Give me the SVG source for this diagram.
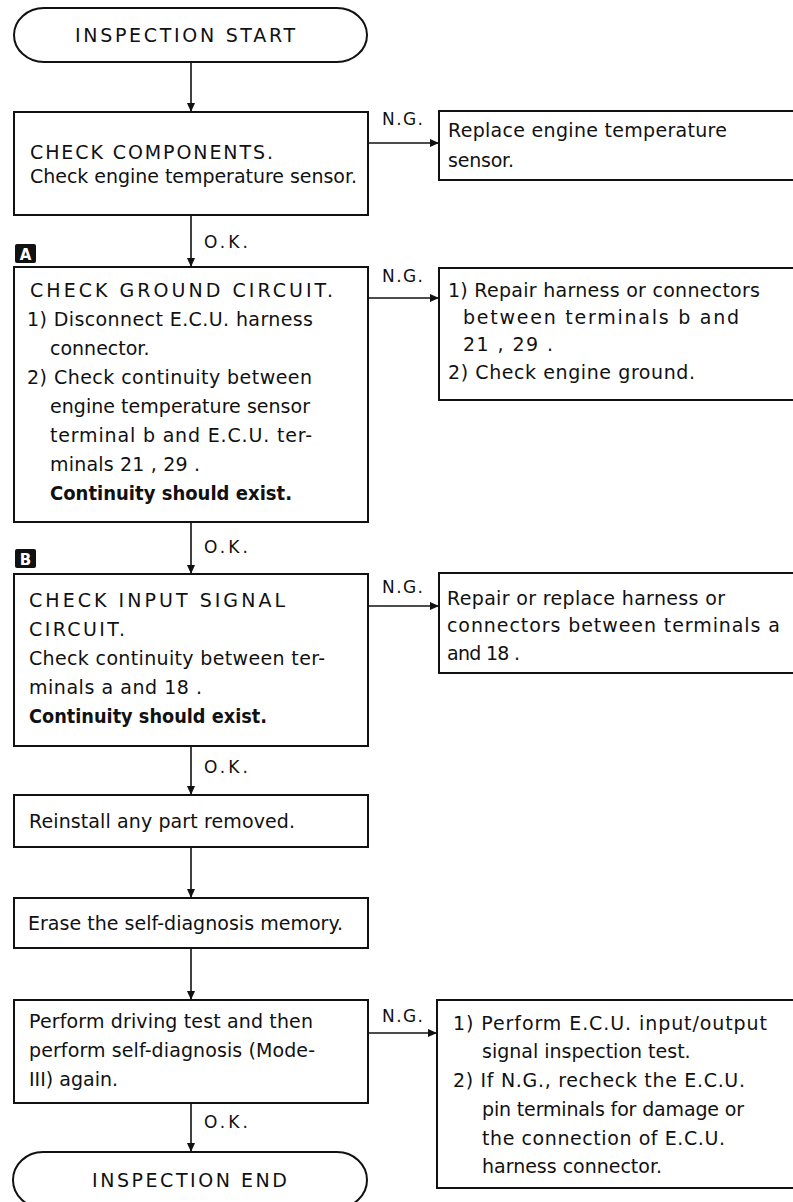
<svg xmlns="http://www.w3.org/2000/svg" width="793" height="1202" viewBox="0 0 793 1202">
<defs>
<style>
.box{fill:#fff;stroke:#111;stroke-width:2}
.t{font-family:"DejaVu Sans","Liberation Sans",Arial,sans-serif;font-size:19px;fill:#111}
.b{font-weight:bold}
.lbl{font-family:"DejaVu Sans","Liberation Sans",Arial,sans-serif;font-size:17px;fill:#111}
.ln{fill:none;stroke:#111;stroke-width:1.6}
.badge{fill:#111}
.bt{font-family:"DejaVu Sans","Liberation Sans",Arial,sans-serif;font-size:15px;font-weight:bold;fill:#fff}
</style>
<marker id="ah" markerWidth="10" markerHeight="10" refX="9" refY="5" orient="auto" markerUnits="userSpaceOnUse">
<path d="M0,1 L9,5 L0,9 Z" fill="#111"/>
</marker>
</defs>
<rect width="793" height="1202" fill="#fff"/>

<g id="connectors">
<line class="ln" x1="191" y1="62" x2="191" y2="112" marker-end="url(#ah)"/>
<line class="ln" x1="191" y1="215" x2="191" y2="267" marker-end="url(#ah)"/>
<line class="ln" x1="191" y1="522" x2="191" y2="574" marker-end="url(#ah)"/>
<line class="ln" x1="191" y1="746" x2="191" y2="795" marker-end="url(#ah)"/>
<line class="ln" x1="191" y1="847" x2="191" y2="898" marker-end="url(#ah)"/>
<line class="ln" x1="191" y1="948" x2="191" y2="1000" marker-end="url(#ah)"/>
<line class="ln" x1="191" y1="1103" x2="191" y2="1152" marker-end="url(#ah)"/>
<line class="ln" x1="368" y1="143" x2="439" y2="143" marker-end="url(#ah)"/>
<line class="ln" x1="368" y1="298" x2="439" y2="298" marker-end="url(#ah)"/>
<line class="ln" x1="368" y1="606" x2="439" y2="606" marker-end="url(#ah)"/>
<line class="ln" x1="368" y1="1033" x2="437" y2="1033" marker-end="url(#ah)"/>
<text class="lbl" x="204" y="248" textLength="44" lengthAdjust="spacing">O.K.</text>
<text class="lbl" x="204" y="553" textLength="44" lengthAdjust="spacing">O.K.</text>
<text class="lbl" x="204" y="773" textLength="44" lengthAdjust="spacing">O.K.</text>
<text class="lbl" x="204" y="1128" textLength="44" lengthAdjust="spacing">O.K.</text>
<text class="lbl" x="382" y="125" textLength="41" lengthAdjust="spacing">N.G.</text>
<text class="lbl" x="382" y="282" textLength="41" lengthAdjust="spacing">N.G.</text>
<text class="lbl" x="382" y="593" textLength="41" lengthAdjust="spacing">N.G.</text>
<text class="lbl" x="382" y="1022" textLength="41" lengthAdjust="spacing">N.G.</text>
</g>

<g id="start">
<rect class="box" x="14" y="8" width="353" height="54" rx="30" ry="27"/>
<text class="t" x="75" y="42" font-size="20" textLength="220" lengthAdjust="spacing">INSPECTION START</text>
</g>

<g id="check-components">
<rect class="box" x="14" y="112" width="354" height="103"/>
<text class="t" x="30" y="159" textLength="243" lengthAdjust="spacing">CHECK COMPONENTS.</text>
<text class="t" x="30" y="183" textLength="327" lengthAdjust="spacing">Check engine temperature sensor.</text>
</g>

<g id="replace-sensor">
<rect class="box" x="439" y="111" width="362" height="69"/>
<text class="t" x="448" y="137" textLength="279" lengthAdjust="spacing">Replace engine temperature</text>
<text class="t" x="448" y="167" textLength="66" lengthAdjust="spacing">sensor.</text>
</g>

<g id="badge-a">
<rect class="badge" x="15" y="244" width="21" height="19" rx="2"/>
<text class="bt" x="25.5" y="259.5" text-anchor="middle">A</text>
</g>

<g id="check-ground">
<rect class="box" x="14" y="267" width="354" height="255"/>
<text class="t" x="30" y="297" textLength="303" lengthAdjust="spacing">CHECK GROUND CIRCUIT.</text>
<text class="t" x="27" y="326" textLength="286" lengthAdjust="spacing">1) Disconnect E.C.U. harness</text>
<text class="t" x="50" y="355">connector.</text>
<text class="t" x="27" y="384" textLength="285" lengthAdjust="spacing">2) Check continuity between</text>
<text class="t" x="50" y="413" textLength="260" lengthAdjust="spacing">engine temperature sensor</text>
<text class="t" x="50" y="442" textLength="262" lengthAdjust="spacing">terminal  b  and E.C.U. ter-</text>
<text class="t" x="50" y="471" textLength="150" lengthAdjust="spacing">minals 21 , 29 .</text>
<text class="t b" x="50" y="500" textLength="242" lengthAdjust="spacingAndGlyphs">Continuity should exist.</text>
</g>

<g id="repair-ground">
<rect class="box" x="439" y="268" width="362" height="132"/>
<text class="t" x="448" y="297" textLength="312" lengthAdjust="spacing">1) Repair harness or connectors</text>
<text class="t" x="463" y="324" textLength="276" lengthAdjust="spacing">between terminals  b  and</text>
<text class="t" x="463" y="351" textLength="90" lengthAdjust="spacing">21 , 29 .</text>
<text class="t" x="448" y="379" textLength="247" lengthAdjust="spacing">2) Check engine ground.</text>
</g>

<g id="badge-b">
<rect class="badge" x="15" y="549" width="21" height="19" rx="2"/>
<text class="bt" x="25.5" y="564.5" text-anchor="middle">B</text>
</g>

<g id="check-input">
<rect class="box" x="14" y="574" width="354" height="172"/>
<text class="t" x="29" y="607" textLength="256" lengthAdjust="spacing">CHECK INPUT SIGNAL</text>
<text class="t" x="29" y="636" textLength="96" lengthAdjust="spacing">CIRCUIT.</text>
<text class="t" x="29" y="665" textLength="296" lengthAdjust="spacing">Check continuity between ter-</text>
<text class="t" x="29" y="694" textLength="173" lengthAdjust="spacing">minals  a  and  18 .</text>
<text class="t b" x="29" y="723" textLength="238" lengthAdjust="spacingAndGlyphs">Continuity should exist.</text>
</g>

<g id="repair-input">
<rect class="box" x="439" y="573" width="362" height="100"/>
<text class="t" x="447" y="605" textLength="278" lengthAdjust="spacing">Repair or replace harness or</text>
<text class="t" x="447" y="632" textLength="333" lengthAdjust="spacing">connectors between terminals  a</text>
<text class="t" x="447" y="660" textLength="73" lengthAdjust="spacing">and  18 .</text>
</g>

<g id="reinstall">
<rect class="box" x="14" y="795" width="354" height="52"/>
<text class="t" x="29" y="828" textLength="266" lengthAdjust="spacing">Reinstall any part removed.</text>
</g>

<g id="erase">
<rect class="box" x="14" y="898" width="354" height="50"/>
<text class="t" x="28" y="930" textLength="315" lengthAdjust="spacing">Erase the self-diagnosis memory.</text>
</g>

<g id="driving-test">
<rect class="box" x="14" y="1000" width="354" height="103"/>
<text class="t" x="29" y="1028" textLength="284" lengthAdjust="spacing">Perform driving test and then</text>
<text class="t" x="29" y="1057" textLength="286" lengthAdjust="spacing">perform self-diagnosis (Mode-</text>
<text class="t" x="29" y="1086" textLength="89" lengthAdjust="spacing">III) again.</text>
</g>

<g id="ecu-test">
<rect class="box" x="437" y="1000" width="364" height="188"/>
<text class="t" x="453" y="1030" textLength="314" lengthAdjust="spacing">1) Perform E.C.U. input/output</text>
<text class="t" x="482" y="1058">signal inspection test.</text>
<text class="t" x="453" y="1087" textLength="292" lengthAdjust="spacing">2) If N.G., recheck the E.C.U.</text>
<text class="t" x="482" y="1116" textLength="262" lengthAdjust="spacing">pin terminals for damage or</text>
<text class="t" x="482" y="1145" textLength="243" lengthAdjust="spacing">the connection of E.C.U.</text>
<text class="t" x="482" y="1173" textLength="180" lengthAdjust="spacing">harness connector.</text>
</g>

<g id="end">
<rect class="box" x="13" y="1152" width="354" height="56" rx="30" ry="28"/>
<text class="t" x="92" y="1187" font-size="20" textLength="195" lengthAdjust="spacing">INSPECTION END</text>
</g>
</svg>
